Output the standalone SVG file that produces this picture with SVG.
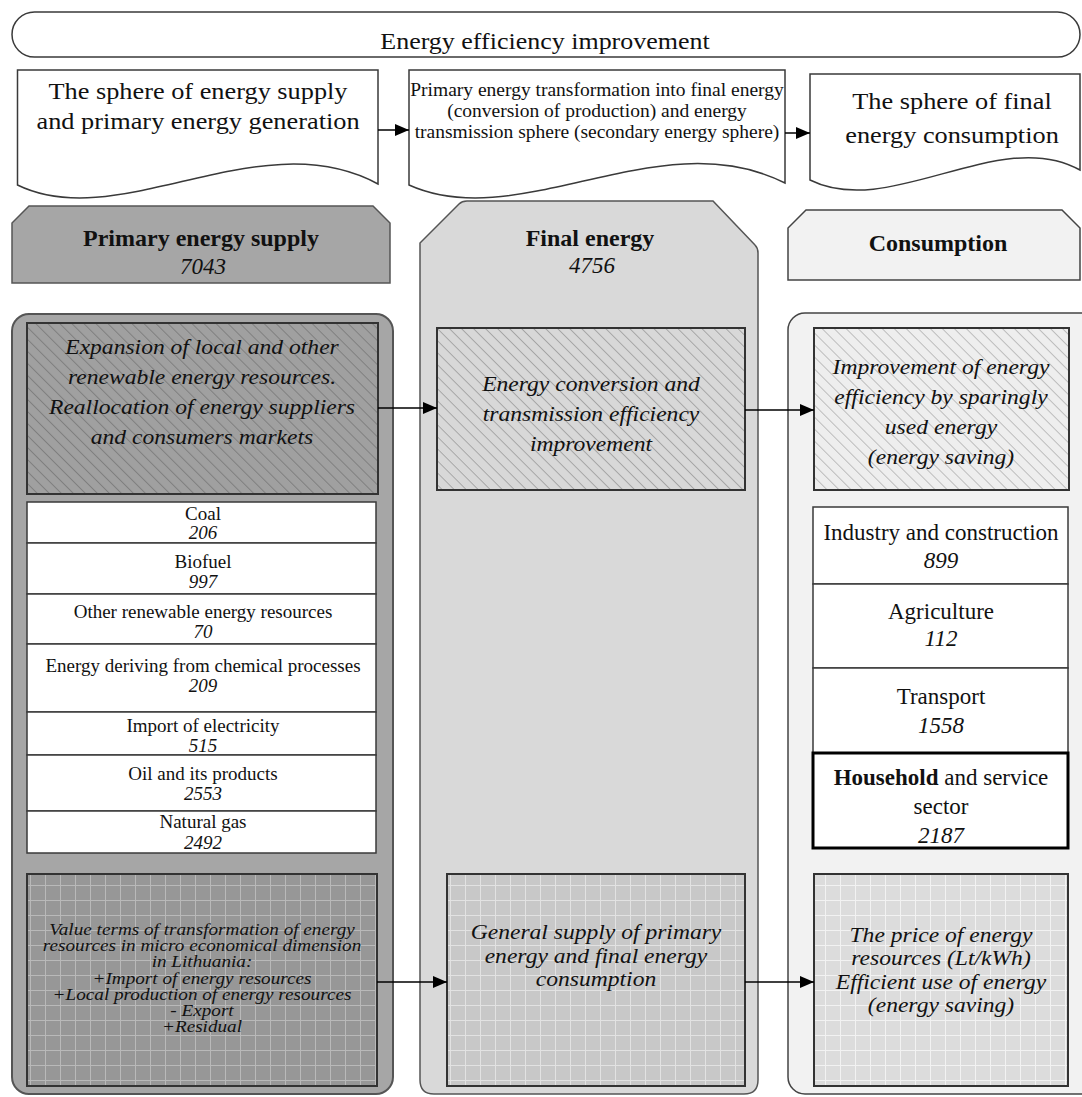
<svg xmlns="http://www.w3.org/2000/svg" width="1082" height="1097" viewBox="0 0 1082 1097">
<style>
.t{font-family:"Liberation Serif","Times New Roman",serif;fill:#111;text-anchor:middle}
.b{font-weight:bold}
.i{font-style:italic}
.doc{fill:#fff;stroke:#3a3a3a;stroke-width:1.5}
.row{fill:#fff;stroke:#3a3a3a;stroke-width:1.5}
.box{stroke:#333;stroke-width:2}
.con{stroke:#000;stroke-width:1.5;fill:none;marker-end:url(#arr)}
</style>
<defs>
<marker id="arr" markerWidth="14" markerHeight="12" refX="14" refY="6" orient="auto" markerUnits="userSpaceOnUse"><path d="M0,0 L14,6 L0,12 Z" fill="#000"/></marker>
<pattern id="hatchDark" width="8.5" height="8.5" patternUnits="userSpaceOnUse" patternTransform="rotate(-45)"><rect width="8.5" height="8.5" fill="#a0a0a0"/><line x1="0.5" y1="0" x2="0.5" y2="8.5" stroke="#777" stroke-width="0.8"/></pattern>
<pattern id="hatchMid" width="8.5" height="8.5" patternUnits="userSpaceOnUse" patternTransform="rotate(-45)"><rect width="8.5" height="8.5" fill="#d8d8d8"/><line x1="0.5" y1="0" x2="0.5" y2="8.5" stroke="#9a9a9a" stroke-width="0.8"/></pattern>
<pattern id="hatchLight" width="8.5" height="8.5" patternUnits="userSpaceOnUse" patternTransform="rotate(-45)"><rect width="8.5" height="8.5" fill="#eeeeee"/><line x1="0.5" y1="0" x2="0.5" y2="8.5" stroke="#b0b0b0" stroke-width="0.8"/></pattern>
<pattern id="gridDark" width="15" height="15" patternUnits="userSpaceOnUse"><rect width="15" height="15" fill="#979797"/><path d="M0 0.5H15M0.5 0V15" stroke="#b9b9b9" stroke-width="1"/></pattern>
<pattern id="gridMid" width="15" height="15" patternUnits="userSpaceOnUse"><rect width="15" height="15" fill="#c8c8c8"/><path d="M0 0.5H15M0.5 0V15" stroke="#e2e2e2" stroke-width="1"/></pattern>
<pattern id="gridLight" width="15" height="15" patternUnits="userSpaceOnUse"><rect width="15" height="15" fill="#dcdcdc"/><path d="M0 0.5H15M0.5 0V15" stroke="#f2f2f2" stroke-width="1"/></pattern>
</defs>

<g id="banner">
<rect x="12" y="12" width="1068" height="45" rx="22.5" fill="#fff" stroke="#3a3a3a" stroke-width="1.5"/>
<g transform="translate(545 0) scale(1.13 1)"><text class="t" x="0" y="49" font-size="23">Energy efficiency improvement</text></g>
</g>

<g id="doc-supply-sphere">
<path class="doc" d="M17.5,70 H378 V184 C260,120 120,235 17.5,185 Z"/>
<g transform="translate(198 0) scale(1.12 1)">
<text class="t" x="0" y="99" font-size="23.5">The sphere of energy supply</text>
<text class="t" x="0" y="129" font-size="23.5">and primary energy generation</text>
</g>
</g>

<g id="doc-transformation-sphere">
<path class="doc" d="M409,70 H785 V183 C660,120 520,235 409,185 Z"/>
<text class="t" x="597" y="96" font-size="19.5">Primary energy transformation into final energy</text>
<text class="t" x="597" y="117" font-size="19.5">(conversion of production) and energy</text>
<text class="t" x="597" y="138" font-size="19.5">transmission sphere (secondary energy sphere)</text>
</g>

<g id="doc-consumption-sphere">
<path class="doc" d="M810,74 H1080 V170 C1000,125 890,220 810,180 Z"/>
<g transform="translate(952 0) scale(1.12 1)">
<text class="t" x="0" y="109" font-size="23.5">The sphere of final</text>
<text class="t" x="0" y="143" font-size="23.5">energy consumption</text>
</g>
</g>

<g id="header-primary">
<path d="M12,283 V223 L29,206 H373 L390,223 V283 Z" fill="#a6a6a6" stroke="#555" stroke-width="1.5"/>
<text class="t b" x="201" y="246" font-size="24">Primary energy supply</text>
<text class="t i" x="203" y="274" font-size="23">7043</text>
</g>

<g id="column-final-energy">
<path d="M420,1080 V243 L459,204 Q462,201 467,201 H713 L755,245 Q758,248 758,253 V1080 Q758,1094 744,1094 H434 Q420,1094 420,1080 Z" fill="#d9d9d9" stroke="#555" stroke-width="1.5"/>
<text class="t b" x="590" y="246" font-size="24">Final energy</text>
<text class="t i" x="592" y="273" font-size="23">4756</text>
</g>

<g id="header-consumption">
<path d="M788,280 V228 L806,210 H1062 L1080,228 V280 Z" fill="#f2f2f2" stroke="#444" stroke-width="1.5"/>
<text class="t b" x="938" y="251" font-size="24">Consumption</text>
</g>

<g id="container-primary">
<rect x="12" y="314" width="381" height="780" rx="17" fill="#a6a6a6" stroke="#555" stroke-width="2"/>
</g>
<g id="container-consumption">
<rect x="788" y="313" width="310" height="781" rx="17" fill="#f2f2f2" stroke="#444" stroke-width="1.5"/>
</g>

<g id="box-expansion">
<rect class="box" x="27" y="323" width="351" height="171" fill="url(#hatchDark)"/>
<g transform="translate(202 0) scale(1.15 1)">
<text class="t i" x="0" y="354" font-size="20.5">Expansion of local and other</text>
<text class="t i" x="0" y="384" font-size="20.5">renewable energy resources.</text>
<text class="t i" x="0" y="414" font-size="20.5">Reallocation of energy suppliers</text>
<text class="t i" x="0" y="444" font-size="20.5">and consumers markets</text>
</g>
</g>

<g id="box-conversion">
<rect class="box" x="437" y="328" width="308" height="162" fill="url(#hatchMid)"/>
<g transform="translate(591 0) scale(1.15 1)">
<text class="t i" x="0" y="391" font-size="20.5">Energy conversion and</text>
<text class="t i" x="0" y="421" font-size="20.5">transmission efficiency</text>
<text class="t i" x="0" y="451" font-size="20.5">improvement</text>
</g>
</g>

<g id="box-saving">
<rect class="box" x="814" y="328" width="255" height="162" fill="url(#hatchLight)"/>
<g transform="translate(941 0) scale(1.15 1)">
<text class="t i" x="0" y="374" font-size="20.5">Improvement of energy</text>
<text class="t i" x="0" y="404" font-size="20.5">efficiency by sparingly</text>
<text class="t i" x="0" y="434" font-size="20.5">used energy</text>
<text class="t i" x="0" y="464" font-size="20.5">(energy saving)</text>
</g>
</g>

<g id="list-primary">
<rect class="row" x="27" y="502" width="349" height="41"/>
<text class="t" x="203" y="520" font-size="19">Coal</text>
<text class="t i" x="203" y="539" font-size="19">206</text>
<rect class="row" x="27" y="543" width="349" height="51"/>
<text class="t" x="203" y="568" font-size="19">Biofuel</text>
<text class="t i" x="203" y="588" font-size="19">997</text>
<rect class="row" x="27" y="594" width="349" height="50"/>
<text class="t" x="203" y="618" font-size="19">Other renewable energy resources</text>
<text class="t i" x="203" y="638" font-size="19">70</text>
<rect class="row" x="27" y="644" width="349" height="68"/>
<text class="t" x="203" y="672" font-size="19">Energy deriving from chemical processes</text>
<text class="t i" x="203" y="692" font-size="19">209</text>
<rect class="row" x="27" y="712" width="349" height="43"/>
<text class="t" x="203" y="732" font-size="19">Import of electricity</text>
<text class="t i" x="203" y="752" font-size="19">515</text>
<rect class="row" x="27" y="755" width="349" height="56"/>
<text class="t" x="203" y="780" font-size="19">Oil and its products</text>
<text class="t i" x="203" y="800" font-size="19">2553</text>
<rect class="row" x="27" y="811" width="349" height="42"/>
<text class="t" x="203" y="828" font-size="19">Natural gas</text>
<text class="t i" x="203" y="849" font-size="19">2492</text>
</g>

<g id="list-consumption">
<rect class="row" x="813" y="507" width="255" height="77"/>
<text class="t" x="941" y="540" font-size="23">Industry and construction</text>
<text class="t i" x="941" y="568" font-size="23">899</text>
<rect class="row" x="813" y="584" width="255" height="84"/>
<text class="t" x="941" y="619" font-size="23">Agriculture</text>
<text class="t i" x="941" y="646" font-size="23">112</text>
<rect class="row" x="813" y="668" width="255" height="85"/>
<text class="t" x="941" y="704" font-size="23">Transport</text>
<text class="t i" x="941" y="733" font-size="23">1558</text>
<rect x="813" y="753" width="255" height="95" fill="#fff" stroke="#000" stroke-width="3"/>
<text class="t" x="941" y="785" font-size="23"><tspan class="b">Household</tspan> and service</text>
<text class="t" x="941" y="814" font-size="23">sector</text>
<text class="t i" x="941" y="843" font-size="23">2187</text>
</g>

<g id="box-value-terms">
<rect class="box" x="27" y="874" width="350" height="212" fill="url(#gridDark)"/>
<g transform="translate(202 0) scale(1.2 1)">
<text class="t i" x="0" y="935" font-size="16">Value terms of transformation of energy</text>
<text class="t i" x="0" y="951" font-size="16">resources in micro economical dimension</text>
<text class="t i" x="0" y="967" font-size="16">in Lithuania:</text>
<text class="t i" x="0" y="984" font-size="16">+Import of energy resources</text>
<text class="t i" x="0" y="1000" font-size="16">+Local production of energy resources</text>
<text class="t i" x="0" y="1016" font-size="16">- Export</text>
<text class="t i" x="0" y="1032" font-size="16">+Residual</text>
</g>
</g>

<g id="box-general-supply">
<rect class="box" x="447" y="874" width="298" height="212" fill="url(#gridMid)"/>
<g transform="translate(596 0) scale(1.15 1)">
<text class="t i" x="0" y="939" font-size="20.5">General supply of primary</text>
<text class="t i" x="0" y="963" font-size="20.5">energy and final energy</text>
<text class="t i" x="0" y="986" font-size="20.5">consumption</text>
</g>
</g>

<g id="box-price">
<rect class="box" x="814" y="874" width="254" height="212" fill="url(#gridLight)"/>
<g transform="translate(941 0) scale(1.15 1)">
<text class="t i" x="0" y="942" font-size="20.5">The price of energy</text>
<text class="t i" x="0" y="965" font-size="20.5">resources (Lt/kWh)</text>
<text class="t i" x="0" y="989" font-size="20.5">Efficient use of energy</text>
<text class="t i" x="0" y="1012" font-size="20.5">(energy saving)</text>
</g>
</g>

<g id="connectors">
<line class="con" x1="378" y1="130" x2="409" y2="130"/>
<line class="con" x1="785" y1="133" x2="810" y2="133"/>
<line class="con" x1="378" y1="408" x2="437" y2="408"/>
<line class="con" x1="745" y1="410" x2="814" y2="410"/>
<line class="con" x1="377" y1="982" x2="447" y2="982"/>
<line class="con" x1="745" y1="982" x2="814" y2="982"/>
</g>
</svg>
